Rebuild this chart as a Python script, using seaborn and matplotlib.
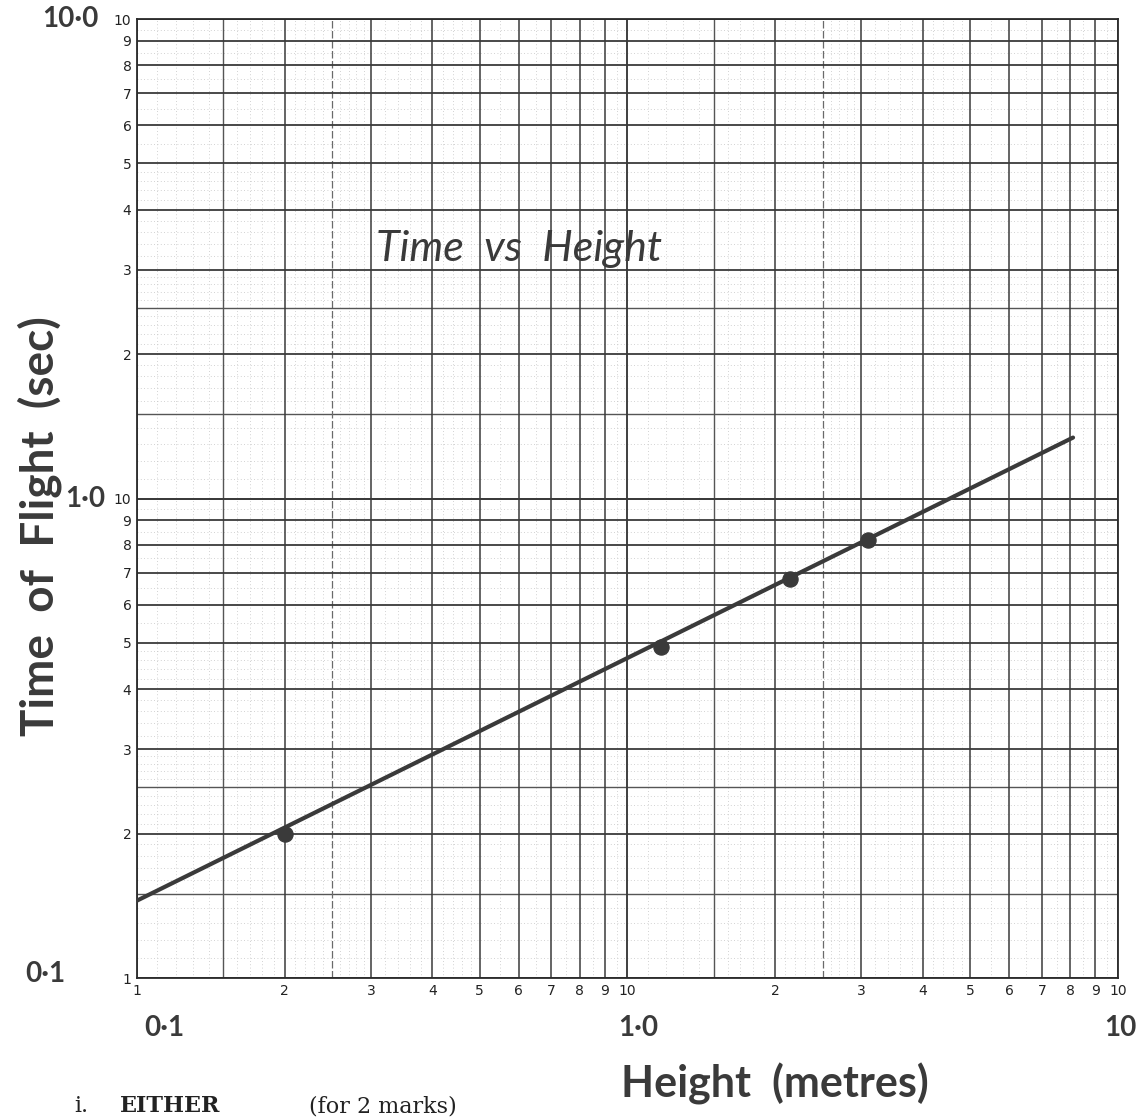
import numpy as np
import pandas as pd
import matplotlib
matplotlib.use("Agg")
import matplotlib.pyplot as plt
import seaborn as sns
from matplotlib.ticker import FixedLocator, FixedFormatter, NullLocator

# Measured points (height in metres, time of flight in seconds)
heights = [0.2, 1.17, 2.15, 3.1]
times = [0.20, 0.49, 0.68, 0.82]

# Hand-drawn best fit line end points
fit_heights = [0.1, 8.1]
fit_times = [0.145, 1.34]

# Log paper printed labels (same for both axes)
tick_values = [0.1, 0.2, 0.3, 0.4, 0.5, 0.6, 0.7, 0.8, 0.9, 1.0,
               2, 3, 4, 5, 6, 7, 8, 9, 10]
tick_labels = ['1', '2', '3', '4', '5', '6', '7', '8', '9', '10',
               '2', '3', '4', '5', '6', '7', '8', '9', '10']

# Handwritten decade labels
decade_values = [0.1, 1.0, 10]
x_decade_labels = ['0·1', '1·0', '10']
y_decade_labels = ['0·1', '1·0', '10·0']

# grid levels of the log paper
major_grid = [m * d for d in [0.1, 1.0] for m in range(1, 11)]
half_grid = [1.5 * d for d in [0.1, 1.0]]
dash_grid = [2.5 * d for d in [0.1, 1.0]]
fine_grid = []
for d in [0.1, 1.0]:
    for m in np.arange(1.1, 3.0, 0.1):
        if round(m, 1) not in (1.5, 2.0, 2.5):
            fine_grid.append(round(m, 1) * d)
    for m in [3.2, 3.4, 3.6, 3.8, 4.2, 4.4, 4.6, 4.8, 5.5, 6.5, 7.5, 8.5, 9.5]:
        fine_grid.append(m * d)

points = pd.DataFrame({'Height': heights, 'Time': times})
fit = pd.DataFrame({'Height': fit_heights, 'Time': fit_times})

sns.set_style("white")
hand_font = ['Lato', 'DejaVu Sans']
ink = '#3a3a3a'

fig = plt.figure(figsize=(11.46, 11.19), dpi=100)
ax = fig.add_axes([0.1195, 0.126, 0.856, 0.857])

ax.set_xscale('log')
ax.set_yscale('log')
ax.set_xlim(0.1, 10)
ax.set_ylim(0.1, 10)

# graph paper
for v in fine_grid:
    ax.axvline(v, color='#c4c4c4', lw=0.6, ls=(0, (1, 3)), zorder=0)
    ax.axhline(v, color='#c4c4c4', lw=0.6, ls=(0, (1, 3)), zorder=0)
for v in half_grid:
    ax.axvline(v, color='#555555', lw=1.0, zorder=1)
    ax.axhline(v, color='#555555', lw=1.0, zorder=1)
for v in dash_grid:
    ax.axvline(v, color='#6a6a6a', lw=0.9, ls=(0, (6, 2)), zorder=1)
    ax.axhline(v, color='#555555', lw=1.0, zorder=1)
for v in major_grid:
    ax.axvline(v, color='#3a3a3a', lw=1.1, zorder=1)
    ax.axhline(v, color='#3a3a3a', lw=1.3, zorder=1)

# data
sns.lineplot(data=fit, x='Height', y='Time', ax=ax, color=ink, lw=3.0,
             zorder=3, legend=False)
sns.scatterplot(data=points, x='Height', y='Time', ax=ax, color=ink,
                s=120, edgecolor=ink, zorder=4, legend=False)

# printed tick labels
ax.xaxis.set_major_locator(FixedLocator(tick_values))
ax.xaxis.set_major_formatter(FixedFormatter(tick_labels))
ax.yaxis.set_major_locator(FixedLocator(tick_values))
ax.yaxis.set_major_formatter(FixedFormatter(tick_labels))
ax.xaxis.set_minor_locator(NullLocator())
ax.yaxis.set_minor_locator(NullLocator())
ax.tick_params(axis='both', length=0, labelsize=10, colors='#222222', pad=4)

for s in ax.spines.values():
    s.set_color('#2a2a2a')
    s.set_linewidth(1.3)

ax.set_xlabel('')
ax.set_ylabel('')

# handwritten decade labels
x_offsets = [(20, -36), (8, -36), (2, -36)]
for v, lab, off in zip(decade_values, x_decade_labels, x_offsets):
    ax.annotate(lab, xy=(v, 0.1), xycoords='data', xytext=off,
                textcoords='offset points', ha='center', va='center',
                fontsize=20, fontweight='bold', color=ink, family=hand_font)
y_offsets = [(-66, 3), (-37, 0), (-48, 0)]
for v, lab, off in zip(decade_values, y_decade_labels, y_offsets):
    ax.annotate(lab, xy=(0.1, v), xycoords='data', xytext=off,
                textcoords='offset points', ha='center', va='center',
                fontsize=20, fontweight='bold', color=ink, family=hand_font)

# handwritten titles
ax.text(0.39, 0.76, 'Time  vs  Height', transform=ax.transAxes,
        ha='center', va='center', fontsize=31, style='italic',
        color=ink, family=hand_font)
fig.text(0.676, 0.031, 'Height  (metres)', ha='center', va='center',
         fontsize=31, fontweight='bold', color=ink, family=hand_font)
fig.text(0.035, 0.53, 'Time  of  Flight  (sec)', ha='center', va='center',
         rotation=90, fontsize=33, fontweight='bold', color=ink,
         family=hand_font)

# question text at page bottom
y_q = 2 / 1119
fig.text(0.065, y_q, 'i.', ha='left', va='bottom', fontsize=16,
         family='DejaVu Serif', color='#222222')
fig.text(0.105, y_q, 'EITHER', ha='left', va='bottom', fontsize=16,
         fontweight='bold', family='DejaVu Serif', color='#222222')
fig.text(0.27, y_q, '(for 2 marks)', ha='left', va='bottom',
         fontsize=16, family='DejaVu Serif', color='#222222')

fig.savefig('out.png', dpi=100)
